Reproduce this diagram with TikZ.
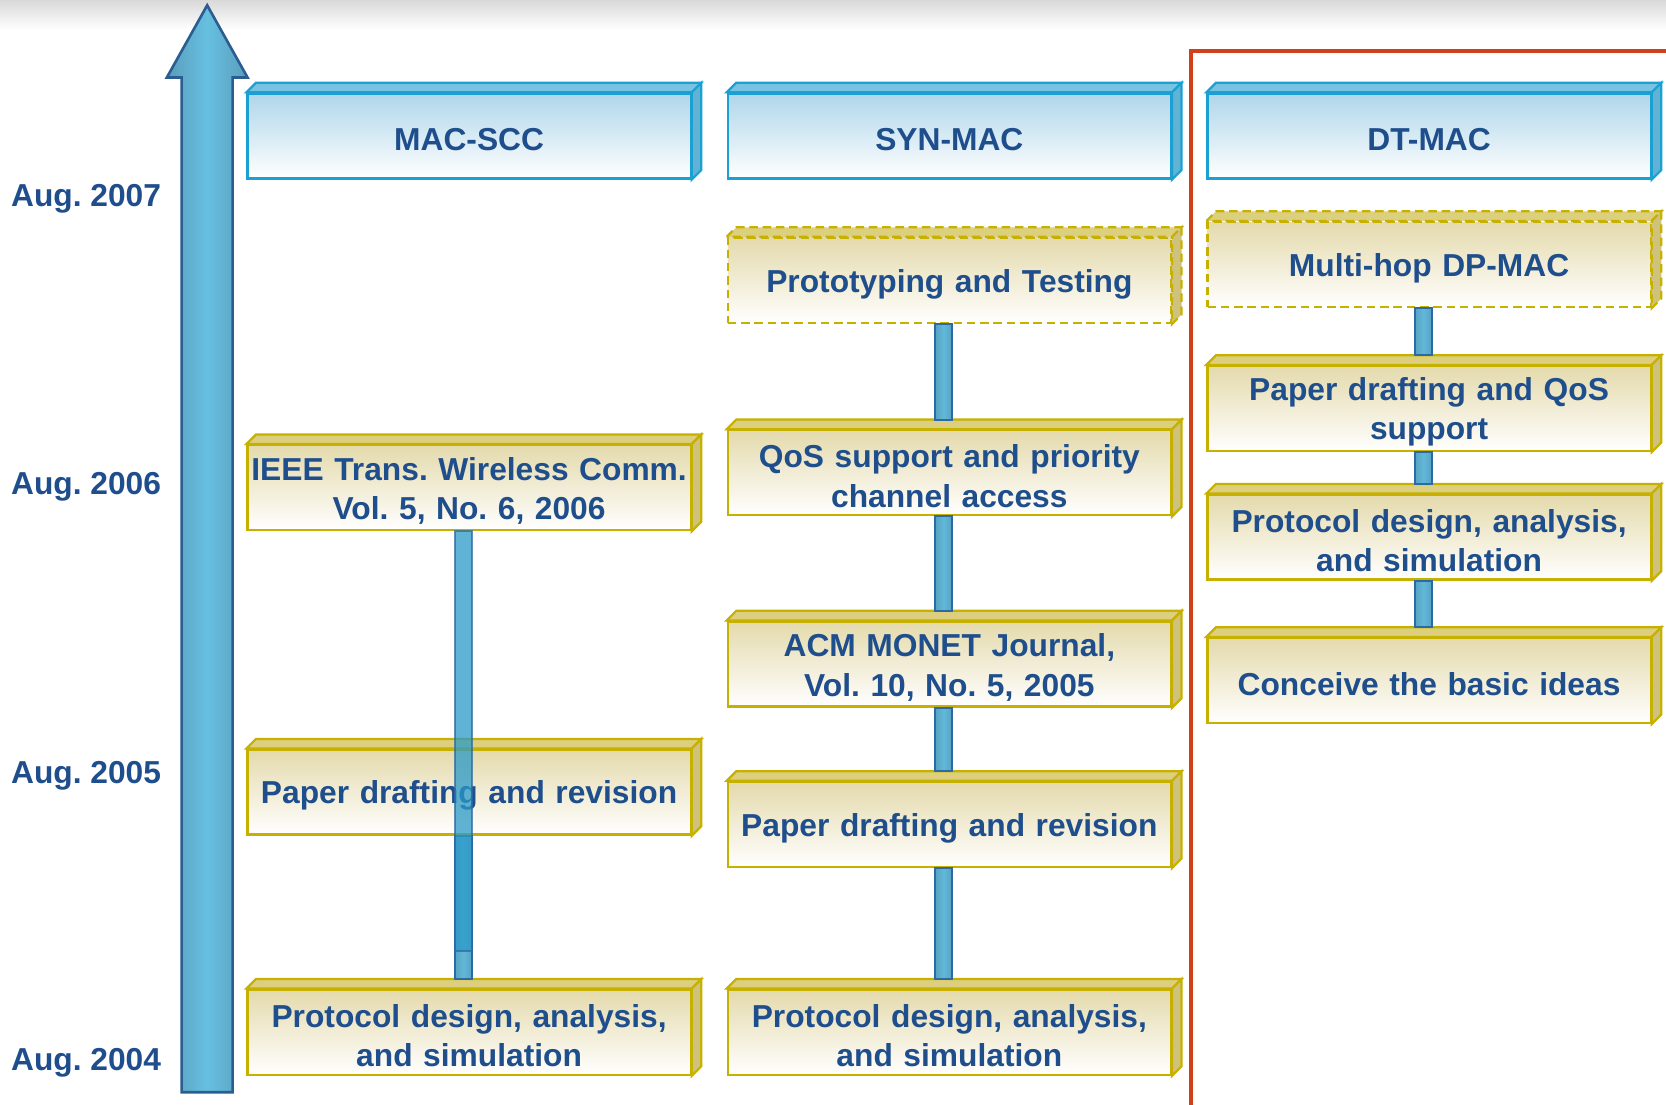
\documentclass[tikz,border=0pt]{standalone}
\usepackage{fontspec}
\setmainfont{Liberation Sans}
\frenchspacing
\definecolor{txtblue}{HTML}{1F4E8C}
\definecolor{hdline}{HTML}{1AA0D2}
\definecolor{hdfill}{HTML}{AFD6EA}
\definecolor{hdtop}{HTML}{78C3E1}
\definecolor{hdside}{HTML}{62B2D4}
\definecolor{yline}{HTML}{C6B000}
\definecolor{yfill}{HTML}{E4DAAC}
\definecolor{ytop}{HTML}{DCCF7E}
\definecolor{yside}{HTML}{CFC27C}
\definecolor{barfill}{HTML}{62B8D8}
\definecolor{baredge}{HTML}{55A2C4}
\definecolor{barline}{HTML}{2D6AA2}
\definecolor{overbar}{HTML}{2A9AC8}
\definecolor{arrowedge}{HTML}{5A9CBC}
\definecolor{arrowmid}{HTML}{66C0E0}
\definecolor{arrowline}{HTML}{2C5D90}
\definecolor{frame}{HTML}{D2401A}
\tikzset{
  boxtext/.style={text=txtblue, font=\fontsize{8.5}{10.5}\selectfont\bfseries, align=center,
    text width=4.17cm, execute at begin node={\rule{0pt}{8pt}}},
  hdbox/.style={boxtext, draw=hdline, line width=0.6pt, top color=hdfill, bottom color=white,
    minimum width=4.17cm, minimum height=0.8cm, inner sep=0pt},
  ybox/.style={boxtext, draw=yline, line width=0.6pt, top color=yfill, bottom color=white,
    minimum width=4.17cm, minimum height=0.8cm, inner sep=0pt},
  dbox/.style={ybox, dash pattern=on 0.8mm off 0.45mm},
  bar/.style={left color=baredge, right color=baredge, middle color=barfill, draw=barline, line width=0.5pt},
  year/.style={text=txtblue, font=\fontsize{8.5}{10.5}\selectfont\bfseries, anchor=base}
}
\begin{document}
\begin{tikzpicture}
\useasboundingbox (0,0) rectangle (15.68,10.40);
\clip (0,0) rectangle (15.68,10.40);
\shade[top color=gray!30, bottom color=white] (0,10.12) rectangle (15.68,10.40);
% time axis
\shade[left color=arrowedge, right color=arrowedge, middle color=arrowmid, draw=arrowline, line width=0.7pt]
  (1.71,0.12) -- (1.71,9.67) -- (1.57,9.67) -- (1.95,10.35) -- (2.33,9.67) -- (2.19,9.67) -- (2.19,0.12) -- cycle;
\foreach \yr/\y in {2007/8.46, 2006/5.75, 2005/3.03, 2004/0.32}
  \node[year] (d\yr) at (0.81,\y) {Aug. \yr};
\draw[frame, line width=1pt] (11.21,-0.2) -- (11.21,9.92) -- (16,9.92);
% headers
\node[hdbox] (macscc) at (4.415,9.12) {MAC-SCC};
\node[hdbox] (synmac) at (8.935,9.12) {SYN-MAC};
\node[hdbox] (dtmac) at (13.45,9.12) {DT-MAC};
% MAC-SCC
\node[ybox] (ieee) at (4.415,5.81) {IEEE Trans. Wireless Comm.\\Vol. 5, No. 6, 2006};
\node[ybox] (paperA) at (4.415,2.945) {Paper drafting and revision};
\node[ybox] (protoA) at (4.415,0.685) {Protocol design, analysis,\\and simulation};
% SYN-MAC
\node[dbox] (testing) at (8.935,7.76) {Prototyping and Testing};
\node[ybox] (qos) at (8.935,5.95) {QoS support and priority\\channel access};
\node[ybox] (monet) at (8.935,4.15) {ACM MONET Journal,\\Vol. 10, No. 5, 2005};
\node[ybox] (paperB) at (8.935,2.64) {Paper drafting and revision};
\node[ybox] (protoB) at (8.935,0.685) {Protocol design, analysis,\\and simulation};
% DT-MAC
\node[dbox] (multihop) at (13.45,7.91) {Multi-hop DP-MAC};
\node[ybox] (paperqos) at (13.45,6.555) {Paper drafting and QoS\\support};
\node[ybox] (protoC) at (13.45,5.345) {Protocol design, analysis,\\and simulation};
\node[ybox] (conceive) at (13.45,3.995) {Conceive the basic ideas};
% box depth
\foreach \n in {macscc,synmac,dtmac}{
  \filldraw[draw=hdline, fill=hdtop, line width=0.6pt] (\n.north west) -- ++(0.09,0.09) -- ([shift={(0.09,0.09)}]\n.north east) -- (\n.north east) -- cycle;
  \filldraw[draw=hdline, fill=hdside, line width=0.6pt] (\n.north east) -- ++(0.09,0.09) -- ([shift={(0.09,0.09)}]\n.south east) -- (\n.south east) -- cycle;
}
\foreach \n in {ieee,paperA,protoA,qos,monet,paperB,protoB,paperqos,protoC,conceive}{
  \filldraw[draw=yline, fill=ytop, line width=0.6pt] (\n.north west) -- ++(0.09,0.09) -- ([shift={(0.09,0.09)}]\n.north east) -- (\n.north east) -- cycle;
  \filldraw[draw=yline, fill=yside, line width=0.6pt] (\n.north east) -- ++(0.09,0.09) -- ([shift={(0.09,0.09)}]\n.south east) -- (\n.south east) -- cycle;
}
\foreach \n in {testing,multihop}{
  \filldraw[draw=yline, fill=ytop, line width=0.6pt, dash pattern=on 0.8mm off 0.45mm] (\n.north west) -- ++(0.09,0.09) -- ([shift={(0.09,0.09)}]\n.north east) -- (\n.north east) -- cycle;
  \filldraw[draw=yline, fill=yside, line width=0.6pt, dash pattern=on 0.8mm off 0.45mm] (\n.north east) -- ++(0.09,0.09) -- ([shift={(0.09,0.09)}]\n.south east) -- (\n.south east) -- cycle;
}
% links
\draw[bar] ([xshift=-1.35mm]paperA.south) rectangle ([xshift=0.25mm,yshift=0.9mm]protoA.north);
\foreach \a/\b in {testing/qos, qos/monet, monet/paperB, paperB/protoB, multihop/paperqos, paperqos/protoC, protoC/conceive}
  \draw[bar] ([xshift=-1.35mm]\a.south) rectangle ([xshift=0.25mm,yshift=0.9mm]\b.north);
\coordinate (ieeeend) at (4.415,1.45);
\draw[fill=overbar, draw=barline, line width=0.5pt, opacity=0.75] ([xshift=-1.35mm]ieee.south) rectangle ([xshift=0.25mm]ieeeend);
\end{tikzpicture}
\end{document}
